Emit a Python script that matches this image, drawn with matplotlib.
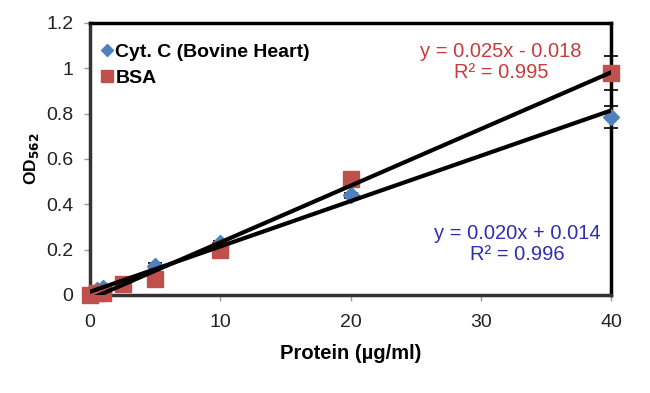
import numpy as np
import matplotlib
matplotlib.use("Agg")
import matplotlib.pyplot as plt
from matplotlib.lines import Line2D

plt.rcParams['font.family'] = ['Liberation Sans', 'DejaVu Sans']

# standards (ug/ml) and OD562 readings
protein = [0, 0.5, 1, 2.5, 5, 10, 20, 40]
cyt_od = [0.01, 0.02, 0.03, 0.05, 0.13, 0.23, 0.44, 0.785]
cyt_err = [0.005, 0.005, 0.005, 0.005, 0.01, 0.01, 0.01, 0.05]
bsa_od = [0.0, 0.01, 0.01, 0.05, 0.07, 0.20, 0.51, 0.98]
bsa_err = [0.005, 0.005, 0.005, 0.005, 0.01, 0.01, 0.01, 0.075]

cyt_fit = (0.020, 0.014, 0.996)
bsa_fit = (0.025, -0.018, 0.995)

x_ticks = [0, 10, 20, 30, 40]
y_ticks = [0, 0.2, 0.4, 0.6, 0.8, 1, 1.2]
y_tick_labels = ['0', '0.2', '0.4', '0.6', '0.8', '1', '1.2']

blue = '#4F81BD'
red = '#C0504D'

fig = plt.figure(figsize=(6.5, 3.93), dpi=100)
ax = fig.add_axes([0.1385, 0.2494, 0.8015, 0.6921])

ax.errorbar(protein, cyt_od, yerr=cyt_err, fmt='D', color=blue, ms=8,
            ecolor='black', elinewidth=1.2, capsize=5, capthick=1.2,
            zorder=3, clip_on=False)
ax.errorbar(protein, bsa_od, yerr=bsa_err, fmt='s', color=red, ms=11,
            ecolor='black', elinewidth=1.2, capsize=5, capthick=1.2,
            zorder=3, clip_on=False)

xs = np.array([min(protein), max(protein)])
ax.plot(xs, cyt_fit[0] * xs + cyt_fit[1], color='black', lw=3, zorder=4)
ax.plot(xs, bsa_fit[0] * xs + bsa_fit[1], color='black', lw=3, zorder=4)

ax.text(0.789, 0.93, 'y = %.3fx - %.3f\nR² = %.3f' % (bsa_fit[0], -bsa_fit[1], bsa_fit[2]),
        transform=ax.transAxes, ha='center', va='top', color='#C83C3C',
        fontsize=14.5, linespacing=1.12)
ax.text(0.82, 0.262, 'y = %.3fx + %.3f\nR² = %.3f' % (cyt_fit[0], cyt_fit[1], cyt_fit[2]),
        transform=ax.transAxes, ha='center', va='top', color='#2E2EB4',
        fontsize=14.5, linespacing=1.12)

ax.set_xlim(0, 40)
ax.set_ylim(0, 1.2)
ax.set_xticks(x_ticks)
ax.set_yticks(y_ticks)
ax.set_yticklabels(y_tick_labels)
ax.tick_params(axis='both', labelsize=14, colors='#999999', labelcolor='#222222',
               length=4, width=1)
ax.tick_params(axis='x', pad=10)
ax.tick_params(axis='y', pad=8)

for side in ['top', 'right']:
    ax.spines[side].set_color('black')
    ax.spines[side].set_linewidth(2.5)
for side in ['left', 'bottom']:
    ax.spines[side].set_color('#333333')
    ax.spines[side].set_linewidth(2.5)

ax.set_xlabel('Protein (µg/ml)', fontsize=14.5, fontweight='bold', labelpad=9)
ax.set_ylabel('OD$_\\mathbf{562}$', fontsize=12.5, fontweight='bold', labelpad=4)

handles = [Line2D([], [], ls='none', marker='D', color=blue, ms=6),
           Line2D([], [], ls='none', marker='s', color=red, ms=8)]
ax.legend(handles, ['Cyt. C (Bovine Heart)', 'BSA'], loc='upper left',
          bbox_to_anchor=(0.002, 0.955), frameon=False, handletextpad=0.05,
          handlelength=0.8, borderaxespad=0.0, labelspacing=0.45,
          prop={'weight': 'bold', 'size': 14})

fig.savefig('out.png', dpi=100)
